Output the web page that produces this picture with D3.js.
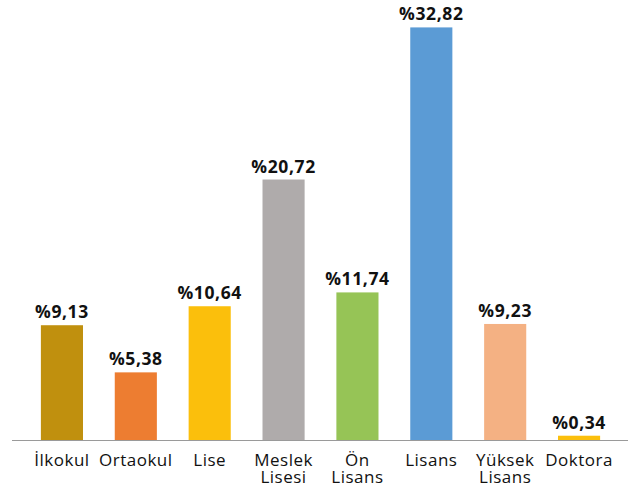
<!DOCTYPE html>
<html>
<head>
<meta charset="utf-8">
<script src="https://cdn.jsdelivr.net/npm/d3@7"></script>
<style>
  body { margin: 0; background: #fff; }
</style>
</head>
<body>
<div id="chart"></div>
<script>
// data
var categories = ["İlkokul", "Ortaokul", "Lise", "Meslek\nLisesi", "Ön\nLisans", "Lisans", "Yüksek\nLisans", "Doktora"];
var values = [9.13, 5.38, 10.64, 20.72, 11.74, 32.82, 9.23, 0.34];
var valueLabels = ["%9,13", "%5,38", "%10,64", "%20,72", "%11,74", "%32,82", "%9,23", "%0,34"];
var colors = ["#c0900e", "#ed7d31", "#fbbf0c", "#afabab", "#96c456", "#5b9bd5", "#f4b183", "#fbbf0c"];

var width = 628, height = 492;

var svg = d3.select("#chart")
    .append("svg")
    .attr("width", width)
    .attr("height", height);

var x = d3.scaleBand()
    .domain(categories)
    .range([25, 616])
    .paddingInner(0.43)
    .paddingOuter(0.215);

var y = d3.scaleLinear()
    .domain([0, 35])
    .range([440, 0]);

// bars
svg.append("g")
    .selectAll("rect")
    .data(values)
    .enter()
    .append("rect")
    .attr("x", function (d, i) { return x(categories[i]); })
    .attr("y", function (d) { return y(d); })
    .attr("width", x.bandwidth())
    .attr("height", function (d) { return y(0) - y(d); })
    .attr("fill", function (d, i) { return colors[i]; });

// value labels
svg.append("g")
    .selectAll("text")
    .data(values)
    .enter()
    .append("text")
    .attr("x", function (d, i) { return x(categories[i]) + x.bandwidth() / 2; })
    .attr("y", function (d) { return y(d) - 7; })
    .attr("text-anchor", "middle")
    .style("font-family", "'Open Sans', sans-serif")
    .style("font-weight", "bold")
    .style("font-size", "17.5px")
    .style("letter-spacing", "0.6px")
    .style("fill", "#111")
    .text(function (d, i) { return valueLabels[i]; });

// baseline
svg.append("line")
    .attr("x1", 12)
    .attr("x2", 628)
    .attr("y1", y(0) + 0.5)
    .attr("y2", y(0) + 0.5)
    .attr("stroke", "#9a9a9a")
    .attr("stroke-width", 1);

// category labels (may be two lines)
var cat = svg.append("g")
    .selectAll("text")
    .data(categories)
    .enter()
    .append("text")
    .attr("x", function (d) { return x(d) + x.bandwidth() / 2; })
    .attr("y", 465.5)
    .attr("text-anchor", "middle")
    .style("font-family", "'Open Sans', sans-serif")
    .style("font-size", "17px")
    .style("letter-spacing", "0.5px")
    .style("fill", "#111");

cat.each(function (d) {
    var t = d3.select(this);
    var parts = d.split("\n");
    parts.forEach(function (p, k) {
        t.append("tspan")
            .attr("x", t.attr("x"))
            .attr("dy", k === 0 ? 0 : 17)
            .text(p);
    });
});
</script>
</body>
</html>
